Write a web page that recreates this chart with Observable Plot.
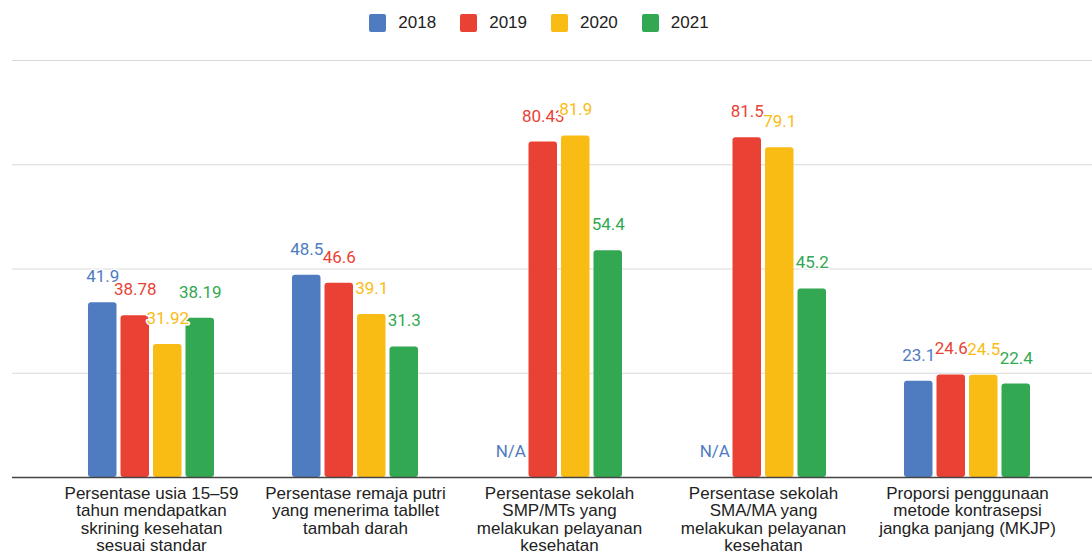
<!DOCTYPE html>
<html>
<head>
<meta charset="utf-8">
<script src="https://cdn.jsdelivr.net/npm/d3@7"></script>
<script src="https://cdn.jsdelivr.net/npm/@observablehq/plot@0.6"></script>
<style>
  html, body { margin: 0; padding: 0; background: #fff; }
  #legend { height: 45px; display: flex; justify-content: center; align-items: center; padding-right: 14px; font-family: "Liberation Sans", Arial, sans-serif; font-size: 17px; color: #222; }
  .item { display: flex; align-items: center; margin: 0 12px; }
  .sw { width: 17px; height: 18px; border-radius: 2px; margin-right: 12px; }
  #chart svg { display: block; }
</style>
</head>
<body>
<div id="legend"></div>
<div id="chart"></div>
<script>
const categories = [
  "Persentase usia 15–59\ntahun mendapatkan\nskrining kesehatan\nsesuai standar",
  "Persentase remaja putri\nyang menerima tabllet\ntambah darah",
  "Persentase sekolah\nSMP/MTs yang\nmelakukan pelayanan\nkesehatan",
  "Persentase sekolah\nSMA/MA yang\nmelakukan pelayanan\nkesehatan",
  "Proporsi penggunaan\nmetode kontrasepsi\njangka panjang (MKJP)"
];
const years = ["2018", "2019", "2020", "2021"];
const v2018 = [41.9, 48.5, null, null, 23.1];
const v2019 = [38.78, 46.6, 80.43, 81.5, 24.6];
const v2020 = [31.92, 39.1, 81.9, 79.1, 24.5];
const v2021 = [38.19, 31.3, 54.4, 45.2, 22.4];
const yTicks = [25, 50, 75, 100];
const colors = ["#4f7cc1", "#e94235", "#f9bc15", "#33a852"];

const series = [v2018, v2019, v2020, v2021];
const data = [];
years.forEach((yr, i) => {
  categories.forEach((c, j) => data.push({category: c, year: yr, value: series[i][j]}));
});

// legend
const legend = document.getElementById("legend");
years.forEach((yr, i) => {
  const it = document.createElement("div");
  it.className = "item";
  const sw = document.createElement("div");
  sw.className = "sw";
  sw.style.background = colors[i];
  const t = document.createElement("span");
  t.textContent = yr;
  it.appendChild(sw); it.appendChild(t);
  legend.appendChild(it);
});

const step = 32.5;
const chart = Plot.plot({
  width: 1092,
  height: 509,
  marginTop: 15,
  marginBottom: 77,
  marginLeft: 12,
  marginRight: 0,
  style: {background: "#fff", fontFamily: "Liberation Sans, Arial, sans-serif"},
  x: {domain: categories, range: [26, 1092], paddingInner: 0.381, paddingOuter: 0.297, label: null},
  y: {domain: [0, 100], axis: null},
  marks: [
    Plot.ruleY(yTicks, {stroke: "#d9d9d9", strokeWidth: 1}),
    ...years.map((yr, i) => Plot.barY(data.filter(d => d.year === yr), {
      x: "category", y: "value", fill: colors[i],
      insetLeft: i * step, insetRight: (3 - i) * step, rx: 3
    })),
    Plot.ruleY([0], {stroke: "#444", strokeWidth: 1.5}),
    ...years.map((yr, i) => Plot.text(data.filter(d => d.year === yr), {
      x: "category",
      y: d => d.value == null ? 0 : d.value,
      text: d => d.value == null ? "N/A" : String(d.value),
      dx: (i - 1.5) * step, dy: -26,
      fill: colors[i], stroke: "white", strokeWidth: 3,
      fontSize: 17, fontFamily: "Roboto"
    })),
    Plot.axisX({tickSize: 0, tickPadding: 9, fontSize: 17, lineHeight: 1.03, fill: "#222", label: null, fontFamily: "Liberation Sans, Arial, sans-serif"})
  ]
});
document.getElementById("chart").appendChild(chart);
</script>
</body>
</html>
